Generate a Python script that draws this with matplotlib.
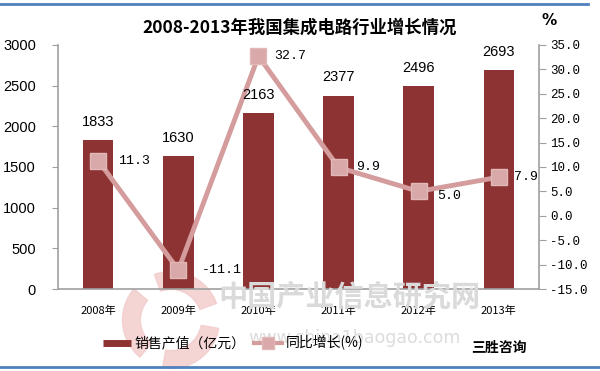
import numpy as np
import matplotlib.pyplot as plt
from matplotlib.lines import Line2D
from matplotlib.patches import Wedge

plt.rcParams['font.family'] = ['Noto Sans CJK SC', 'DejaVu Sans']

# data
years = ["2008年", "2009年", "2010年", "2011年", "2012年", "2013年"]
sales = [1833, 1630, 2163, 2377, 2496, 2693]
growth = [11.3, -11.1, 32.7, 9.9, 5.0, 7.9]
left_ticks = [0, 500, 1000, 1500, 2000, 2500, 3000]
right_ticks = [-15, -10, -5, 0, 5, 10, 15, 20, 25, 30, 35]

bar_color = "#8E3333"
line_color = "#D49C9C"
axis_gray = "#A0A0A0"

fig = plt.figure(figsize=(6, 3.71), dpi=100)

# faint logo of the watermark, lower left
logo = fig.add_axes([0.2, 0.0, 0.17, 0.275], zorder=-1)
logo.set_xlim(-1, 1)
logo.set_ylim(-1, 1)
logo.set_aspect("equal")
logo.axis("off")
for a0, a1 in [(20, 110), (140, 230), (260, 350)]:
    logo.add_patch(Wedge((0, 0), 0.95, a0, a1, width=0.35,
                         color="#F3CACA", alpha=0.8))

ax = fig.add_axes([0.097, 0.221, 0.801, 0.658])
x = np.arange(len(years))

# watermark text
fig.text(0.583, 0.2, "中国产业信息研究网", fontsize=21, fontweight="bold",
         color="#DADADA", ha="center", va="center", zorder=0)
fig.text(0.59, 0.089, "www.china1baogao.com", fontsize=12.5,
         color="#DCDCDC", ha="center", va="center", zorder=0,
         family="DejaVu Sans")

bars = ax.bar(x, sales, width=0.38, color=bar_color, zorder=2)

ax.set_xlim(-0.5, len(years) - 0.5)
ax.set_ylim(0, 3000)
ax.set_yticks(left_ticks)
ax.set_yticklabels([str(t) for t in left_ticks], fontsize=10.5,
                   family="Liberation Sans")
ax.set_xticks(x)
ax.set_xticklabels(years, fontsize=8)
ax.tick_params(axis="x", length=0, pad=12)
ax.tick_params(axis="y", length=4, color=axis_gray, pad=12)
for s in ["top", "right"]:
    ax.spines[s].set_visible(False)
ax.spines["left"].set_color(axis_gray)
ax.spines["bottom"].set_color(axis_gray)
ax.spines["left"].set_linewidth(1.2)
ax.spines["bottom"].set_linewidth(1.2)
ax.patch.set_alpha(0)

ax2 = ax.twinx()
ln, = ax2.plot(x, growth, color=line_color, lw=3.5, marker="s",
               markersize=11, markerfacecolor="#D9A8A8",
               markeredgecolor="#E2B8B8", zorder=3)

# bar value labels, drawn on top of the line
for xi, v in zip(x, sales):
    ax2.annotate(str(v), (xi, v), xycoords=ax.transData, xytext=(0, 8),
                 textcoords="offset points", ha="center", va="bottom",
                 fontsize=10.5, family="Liberation Sans", zorder=5)

offsets = [(14, 0), (17, 0), (11, 0), (13, 0), (13, -3), (11, 0)]
for xi, v, off in zip(x, growth, offsets):
    ax2.annotate(f"{v:.1f}", (xi, v), xytext=off, textcoords="offset points",
                 ha="left", va="center", fontsize=9.5,
                 family="Liberation Mono", zorder=5)
ax2.set_ylim(-15, 35)
ax2.set_yticks(right_ticks)
ax2.set_yticklabels([f"{t:.1f}" for t in right_ticks], fontsize=9,
                    family="Liberation Mono")
ax2.tick_params(axis="y", length=5, color=axis_gray, pad=3)
for s in ["top", "left", "bottom"]:
    ax2.spines[s].set_visible(False)
ax2.spines["right"].set_color(axis_gray)
ax2.spines["right"].set_linewidth(1.2)

fig.text(0.5, 0.925, "2008-2013年我国集成电路行业增长情况", fontsize=12.5,
         fontweight="bold", ha="center", va="center")
fig.text(0.915, 0.945, "%", fontsize=11, fontweight="bold", ha="center",
         va="center", family="DejaVu Sans")

bar_handle = Line2D([], [], color=bar_color, lw=5, solid_capstyle="butt")
line_handle = Line2D([], [], color=line_color, lw=3, marker="s",
                     markersize=8, markerfacecolor="#D9A8A8",
                     markeredgecolor="#E2B8B8")
fig.legend([bar_handle, line_handle], ["销售产值（亿元）", "同比增长(%)"],
           loc="center left", bbox_to_anchor=(0.16, 0.075), ncol=2,
           frameon=False, fontsize=10, handlelength=2.0,
           handletextpad=0.3, columnspacing=0.6, borderpad=0)
fig.text(0.785, 0.062, "三胜咨询", fontsize=10, fontweight="bold",
         ha="left", va="center")

# blue rules at top and bottom
fig.add_artist(Line2D([0.0, 0.98], [0.99, 0.99], color="#4F81BD", lw=2))
fig.add_artist(Line2D([0.0, 1.0], [0.011, 0.011], color="#4F81BD", lw=2))

fig.savefig("out.png", dpi=100)
